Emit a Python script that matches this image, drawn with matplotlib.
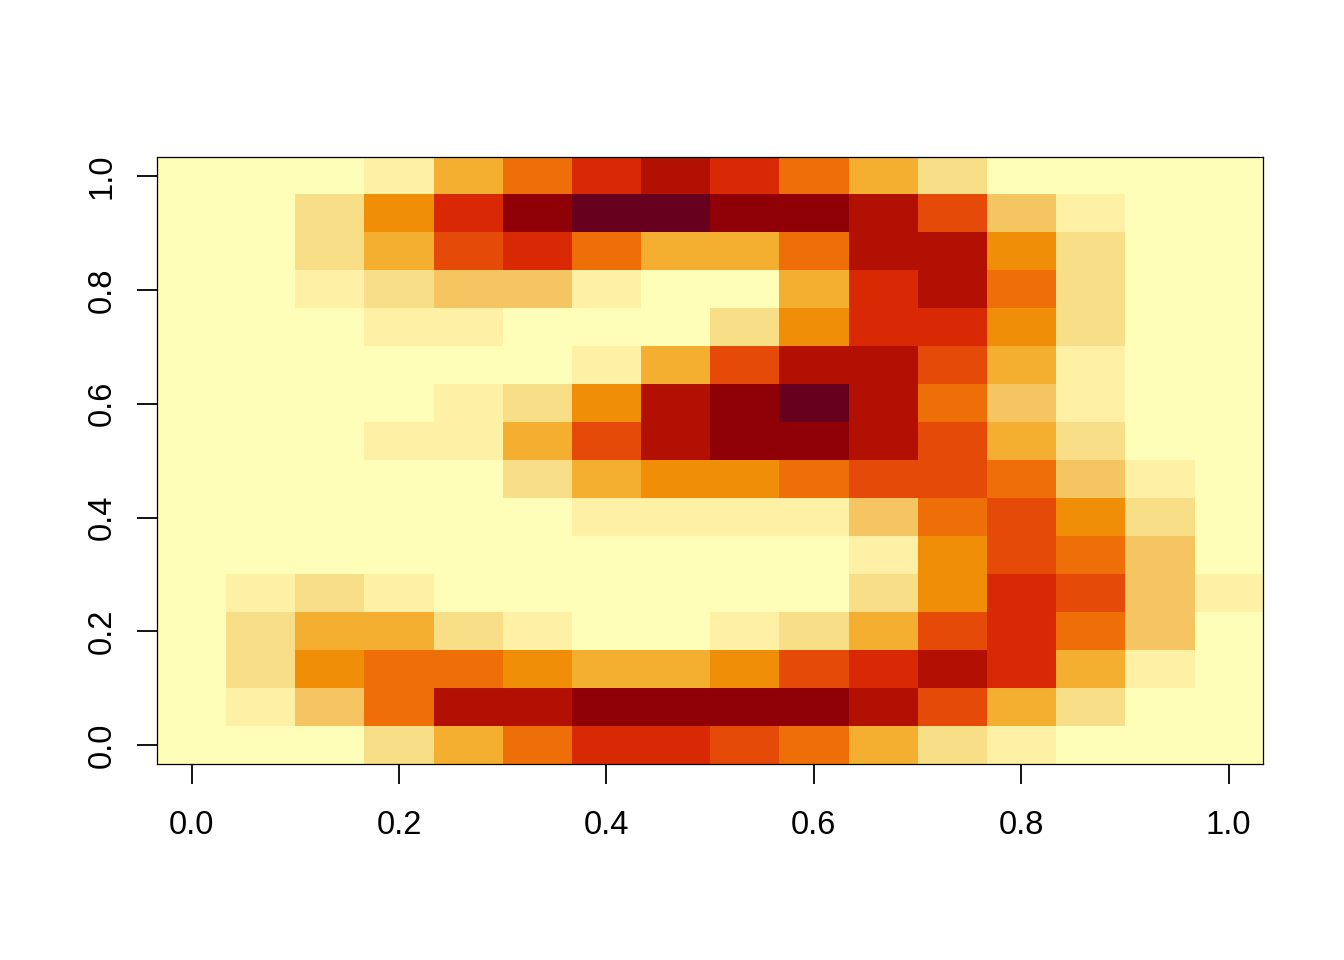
import matplotlib
matplotlib.use('Agg')
import matplotlib.pyplot as plt
from matplotlib.colors import ListedColormap
import numpy as np

plt.rcParams['font.family'] = ['Liberation Sans', 'DejaVu Sans']

# palette, light to dark
colors = ['#FEFEB9', '#FEF0A5', '#F9DE88', '#F5C561', '#F4AE30', '#F08E08',
          '#EE6F08', '#E54A09', '#D82804', '#B11003', '#8F0007', '#67001F']

# 16x16 pixel values, top row first
rows = [
    [0, 0, 0, 1, 4, 6, 8, 9, 8, 6, 4, 2, 0, 0, 0, 0],
    [0, 0, 2, 5, 8, 10, 11, 11, 10, 10, 9, 7, 3, 1, 0, 0],
    [0, 0, 2, 4, 7, 8, 6, 4, 4, 6, 9, 9, 5, 2, 0, 0],
    [0, 0, 1, 2, 3, 3, 1, 0, 0, 4, 8, 9, 6, 2, 0, 0],
    [0, 0, 0, 1, 1, 0, 0, 0, 2, 5, 8, 8, 5, 2, 0, 0],
    [0, 0, 0, 0, 0, 0, 1, 4, 7, 9, 9, 7, 4, 1, 0, 0],
    [0, 0, 0, 0, 1, 2, 5, 9, 10, 11, 9, 6, 3, 1, 0, 0],
    [0, 0, 0, 1, 1, 4, 7, 9, 10, 10, 9, 7, 4, 2, 0, 0],
    [0, 0, 0, 0, 0, 2, 4, 5, 5, 6, 7, 7, 6, 3, 1, 0],
    [0, 0, 0, 0, 0, 0, 1, 1, 1, 1, 3, 6, 7, 5, 2, 0],
    [0, 0, 0, 0, 0, 0, 0, 0, 0, 0, 1, 5, 7, 6, 3, 0],
    [0, 1, 2, 1, 0, 0, 0, 0, 0, 0, 2, 5, 8, 7, 3, 1],
    [0, 2, 4, 4, 2, 1, 0, 0, 1, 2, 4, 7, 8, 6, 3, 0],
    [0, 2, 5, 6, 6, 5, 4, 4, 5, 7, 8, 9, 8, 4, 1, 0],
    [0, 1, 3, 6, 9, 9, 10, 10, 10, 10, 9, 7, 4, 2, 0, 0],
    [0, 0, 0, 2, 4, 6, 8, 8, 7, 6, 4, 2, 1, 0, 0, 0],
]
ticks = [0.0, 0.2, 0.4, 0.6, 0.8, 1.0]

fig = plt.figure(figsize=(13.44, 9.6), dpi=100)
ax = fig.add_axes([157 / 1344, 1 - 764.2 / 960, (1263.2 - 157) / 1344, (764.2 - 157) / 960])

z = np.array(rows)
ax.imshow(z, cmap=ListedColormap(colors), vmin=-0.5, vmax=11.5, aspect='auto',
          interpolation='nearest', origin='upper',
          extent=[-1 / 30, 1 + 1 / 30, -1 / 30, 1 + 1 / 30])

ax.set_xticks(ticks)
ax.set_yticks(ticks)
ax.set_xticklabels(['%.1f' % t for t in ticks])
ax.set_yticklabels(['%.1f' % t for t in ticks], rotation=90, va='center')
ax.tick_params(axis='x', length=14.5, width=1.3, labelsize=23.5, pad=18.5)
ax.tick_params(axis='y', length=14.5, width=1.3, labelsize=23.5, pad=14)
for s in ax.spines.values():
    s.set_linewidth(0.9)

fig.savefig('out.png', dpi=100)
